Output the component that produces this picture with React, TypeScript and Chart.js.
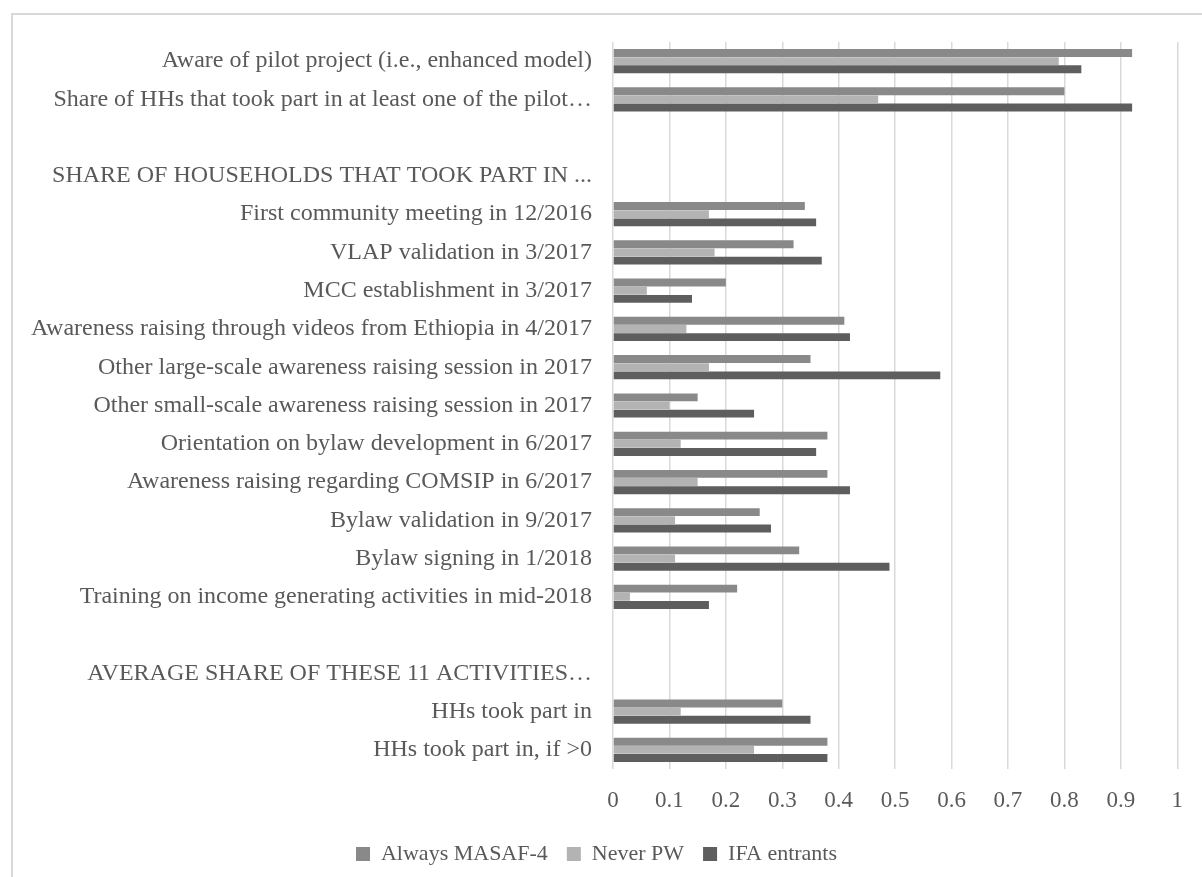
import React, { useEffect, useRef } from "react";
import { Chart, registerables } from "chart.js";

Chart.register(...registerables);

const categories: string[] = [
  "Aware of pilot project (i.e., enhanced model)",
  "Share of HHs that took part in at least one of the pilot…",
  "",
  "SHARE OF HOUSEHOLDS THAT TOOK PART IN ...",
  "First community meeting in 12/2016",
  "VLAP validation in 3/2017",
  "MCC establishment in 3/2017",
  "Awareness raising through videos from Ethiopia in 4/2017",
  "Other large-scale awareness raising session in 2017",
  "Other small-scale awareness raising session in 2017",
  "Orientation on bylaw development in 6/2017",
  "Awareness raising regarding COMSIP in 6/2017",
  "Bylaw validation in 9/2017",
  "Bylaw signing in 1/2018",
  "Training on income generating activities in mid-2018",
  " ",
  "AVERAGE SHARE OF THESE 11 ACTIVITIES…",
  "HHs took part in",
  "HHs took part in, if >0",
];

const alwaysMasaf: (number | null)[] = [
  0.92, 0.8, null, null, 0.34, 0.32, 0.2, 0.41, 0.35, 0.15, 0.38, 0.38, 0.26, 0.33, 0.22, null, null, 0.3, 0.38,
];
const neverPW: (number | null)[] = [
  0.79, 0.47, null, null, 0.17, 0.18, 0.06, 0.13, 0.17, 0.1, 0.12, 0.15, 0.11, 0.11, 0.03, null, null, 0.12, 0.25,
];
const ifaEntrants: (number | null)[] = [
  0.83, 0.92, null, null, 0.36, 0.37, 0.14, 0.42, 0.58, 0.25, 0.36, 0.42, 0.28, 0.49, 0.17, null, null, 0.35, 0.38,
];

const seriesNames: string[] = ["Always MASAF-4", "Never PW", "IFA entrants"];
const xTickLabels: string[] = ["0", "0.1", "0.2", "0.3", "0.4", "0.5", "0.6", "0.7", "0.8", "0.9", "1"];

const FONT = "'Liberation Serif', 'Times New Roman', serif";
const TEXT = "#595959";

export default function App() {
  const ref = useRef<HTMLCanvasElement | null>(null);

  useEffect(() => {
    if (!ref.current) return;
    const chart = new Chart(ref.current, {
      type: "bar",
      data: {
        labels: categories,
        datasets: [
          { label: seriesNames[0], data: alwaysMasaf, backgroundColor: "#898989" },
          { label: seriesNames[1], data: neverPW, backgroundColor: "#b3b3b3" },
          { label: seriesNames[2], data: ifaEntrants, backgroundColor: "#5e5e5e" },
        ],
      },
      options: {
        indexAxis: "y",
        animation: false,
        responsive: false,
        maintainAspectRatio: false,
        datasets: { bar: { categoryPercentage: 0.64, barPercentage: 0.97 } },
        layout: { padding: { top: 27, right: 21, left: 0, bottom: 0 } },
        scales: {
          x: {
            min: 0,
            max: 1,
            ticks: {
              stepSize: 0.1,
              padding: 18,
              color: TEXT,
              font: { family: FONT, size: 23 },
              callback: (_v: any, i: number) => xTickLabels[i],
            },
            grid: { color: "#d9d9d9", lineWidth: 1.5, drawTicks: false },
            border: { display: false },
            afterFit: (s: any) => {
              s.height = 55;
            },
          },
          y: {
            ticks: {
              padding: 21,
              color: TEXT,
              font: { family: FONT, size: 24 },
              autoSkip: false,
            },
            grid: { display: false, drawTicks: false },
            border: { display: false },
            afterFit: (s: any) => {
              s.width = 600;
              s.paddingTop = 0;
              s.paddingBottom = 0;
            },
          },
        },
        plugins: {
          legend: {
            position: "bottom",
            labels: {
              boxWidth: 14,
              boxHeight: 14,
              padding: 19,
              color: TEXT,
              font: { family: FONT, size: 22 },
            },
          },
          tooltip: { enabled: false },
        },
      },
    });
    return () => chart.destroy();
  }, []);

  return (
    <div
      style={{
        position: "absolute",
        left: 11,
        top: 13,
        width: 1189,
        height: 862,
        borderLeft: "2px solid #d9d9d9",
        borderTop: "2px solid #d9d9d9",
        background: "#fff",
      }}
    >
      <canvas ref={ref} width={1188} height={860} style={{ display: "block", width: 1188, height: 860 }} />
    </div>
  );
}
